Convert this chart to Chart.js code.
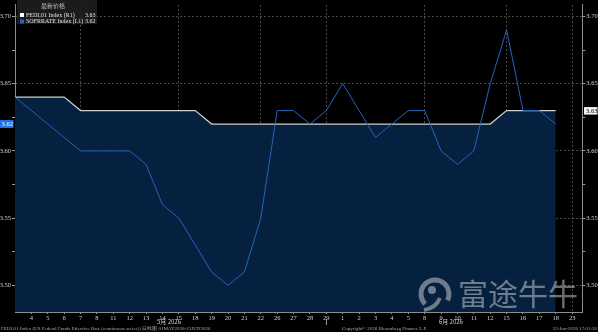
<!DOCTYPE html>
<html><head><meta charset="utf-8">
<script src="https://cdn.jsdelivr.net/npm/chart.js@4/dist/chart.umd.min.js"></script>
<style>html,body{margin:0;padding:0;background:#000;overflow:hidden}#wrap{position:relative;width:598px;height:332px}</style>
</head><body><div id="wrap"><canvas id="c" width="598" height="332"></canvas></div>
<script>
// ---- data ----
const dates = ["2026-05-01","2026-05-04","2026-05-05","2026-05-06","2026-05-07","2026-05-08",
  "2026-05-11","2026-05-12","2026-05-13","2026-05-14","2026-05-15",
  "2026-05-18","2026-05-19","2026-05-20","2026-05-21","2026-05-22",
  "2026-05-26","2026-05-27","2026-05-28","2026-05-29",
  "2026-06-01","2026-06-02","2026-06-03","2026-06-04","2026-06-05",
  "2026-06-08","2026-06-09","2026-06-10","2026-06-11","2026-06-12",
  "2026-06-15","2026-06-16","2026-06-17","2026-06-18"];
const tickLabels = ["","4","5","6","7","8","11","12","13","14","15","18","19","20","21","22","26","27","28","29",
  "1","2","3","4","5","8","9","10","11","12","15","16","17","18","23"];
const fedl01 = [3.64,3.64,3.64,3.64,3.63,3.63,3.63,3.63,3.63,3.63,3.63,3.63,
  3.62,3.62,3.62,3.62,3.62,3.62,3.62,3.62,3.62,3.62,3.62,3.62,3.62,3.62,3.62,3.62,3.62,3.62,
  3.63,3.63,3.63,3.63];
const sofrrate = [3.64,3.63,3.62,3.61,3.60,3.60,3.60,3.60,3.59,3.56,3.55,3.53,3.51,3.50,3.51,3.55,
  3.63,3.63,3.62,3.63,3.65,3.63,3.61,3.62,3.63,3.63,3.60,3.59,3.60,3.65,3.69,3.63,3.63,3.62];
const yTicks = [3.50,3.525,3.55,3.575,3.60,3.625,3.65,3.675,3.70];
const weekLines = [4,10,15,19,25,30,34];
const monthLabels = [{at:9.4,text:"5月 2026"},{at:26.6,text:"6月 2026"}];
const legendTitle = "最新价格";
const seriesNames = ["FEDL01 Index (R1)","SOFRRATE Index (L1)"];
const footerLeft = "FEDL01 Index (US Federal Funds Effective Rate (continuous series)) 日线图 01MAY2026-23JUN2026";
const footerMid = "Copyright\u00A9 2026 Bloomberg Finance L.P.";
const footerRight = "23-Jun-2026 17:01:30";
const watermark = "富途牛牛";

// ---- styles ----
const FONT = "'Liberation Serif', serif";
const WHITE = '#cfcfcf', BLUE = '#2862bd', FILL = '#06203f';
const isMajor = v => Math.abs(v*20 - Math.round(v*20)) < 1e-6;
const gridGrey = 'rgba(135,135,135,0.55)';

const overlay = {
  id:'overlay',
  afterDatasetsDraw(chart){
    const ctx = chart.ctx, xs = chart.scales.x, yl = chart.scales.y, yr = chart.scales.y1;
    const ca = chart.chartArea;
    ctx.save();
    // watermark
    ctx.globalAlpha = 0.5;
    ctx.fillStyle = '#d8d8d8';
    ctx.font = "30px 'Noto Sans CJK SC'";
    ctx.textBaseline = 'middle'; ctx.textAlign = 'left';
    ctx.fillText(watermark, 458, 294);
    // logo
    ctx.strokeStyle = '#d8d8d8'; ctx.lineWidth = 5;
    ctx.beginPath(); ctx.arc(435, 294, 14, Math.PI*0.75, Math.PI*2.15); ctx.stroke();
    ctx.beginPath(); ctx.arc(432, 290, 4, 0, Math.PI*2); ctx.fill();
    ctx.beginPath(); ctx.moveTo(440,298); ctx.quadraticCurveTo(436,308,424,310); ctx.lineWidth=4; ctx.stroke();
    ctx.restore();
  },
  afterDraw(chart){
    const ctx = chart.ctx, xs = chart.scales.x, yl = chart.scales.y, yr = chart.scales.y1;
    const ca = chart.chartArea;
    ctx.save();
    // legend box
    ctx.fillStyle = 'rgba(28,28,28,0.95)';
    ctx.fillRect(17, 0, 80, 24);
    ctx.fillStyle = '#bdbdbd';
    ctx.font = "6px 'Noto Sans CJK SC'";
    ctx.textAlign = 'center'; ctx.textBaseline = 'middle';
    ctx.fillText(legendTitle, 53, 6);
    ctx.font = "6px " + FONT; ctx.textAlign = 'left';
    ctx.fillStyle = '#ffffff'; ctx.fillRect(20, 13, 4, 4);
    ctx.fillStyle = BLUE; ctx.fillRect(20, 19.5, 4, 4);
    ctx.fillStyle = '#e0e0e0';
    ctx.fillText(seriesNames[0], 26, 15.3);
    ctx.fillText(seriesNames[1], 26, 21.6);
    ctx.fillText(fedl01[fedl01.length-1].toFixed(2), 85, 15.3);
    ctx.fillText(sofrrate[sofrrate.length-1].toFixed(2), 85, 21.6);
    // last value tags
    const yb = yl.getPixelForValue(sofrrate[sofrrate.length-1]);
    ctx.fillStyle = '#1f74e0'; ctx.fillRect(0, yb-4, 13.5, 8);
    ctx.fillStyle = '#ffffff'; ctx.font = "6.5px " + FONT; ctx.textAlign='left';
    ctx.fillText(sofrrate[sofrrate.length-1].toFixed(2), 1.5, yb+0.3);
    const yw = yr.getPixelForValue(fedl01[fedl01.length-1]);
    ctx.fillStyle = '#f2f2f2'; ctx.fillRect(584, yw-3.5, 13.5, 7.5);
    ctx.fillStyle = '#000'; ctx.fillText(fedl01[fedl01.length-1].toFixed(2), 586, yw+0.3);
    // month separator and month labels
    ctx.strokeStyle = '#9a9a9a'; ctx.lineWidth = 1;
    const xs19 = Math.round(xs.getPixelForValue(19)) + 0.5;
    ctx.beginPath(); ctx.moveTo(xs19, 319); ctx.lineTo(xs19, 325); ctx.stroke();
    ctx.fillStyle = '#d0d0d0'; ctx.font = "6px 'Noto Sans CJK SC'"; ctx.textAlign='center';
    monthLabels.forEach(m => ctx.fillText(m.text, xs.getPixelForValue(m.at), 322));
    // footer
    ctx.fillStyle = '#a8a8a8'; ctx.font = "5px " + FONT; ctx.textBaseline='middle';
    ctx.textAlign='left'; ctx.fillText(footerLeft, 1, 329, 232);
    ctx.textAlign='left'; ctx.fillText(footerMid, 342, 329, 90);
    ctx.textAlign='right'; ctx.fillText(footerRight, 597, 329, 50);
    ctx.restore();
  }
};

const tickFont = {family: FONT, size: 6.5};
new Chart(document.getElementById('c'), {
  type: 'line',
  data: {
    datasets: [
      {label: seriesNames[0], data: fedl01.map((v,i)=>({x:i,y:v})), borderColor: WHITE, borderWidth: 1.2,
       backgroundColor: FILL, fill: 'start', pointRadius: 0, tension: 0, yAxisID: 'y1', order: 2},
      {label: seriesNames[1], data: sofrrate.map((v,i)=>({x:i,y:v})), borderColor: BLUE, borderWidth: 1,
       fill: false, pointRadius: 0, tension: 0, yAxisID: 'y', order: 1}
    ]
  },
  options: {
    responsive: false, animation: false, devicePixelRatio: 1,
    layout: {padding: 0},
    plugins: {legend: {display: false}, tooltip: {enabled: false}},
    scales: {
      x: {type: 'linear', min: 0, max: 34.62,
        afterBuildTicks: s => { s.ticks = tickLabels.map((l,i)=>({value:i})).filter(t=>t.value>=1); },
        afterFit: s => { s.height = 20; },
        ticks: {callback: v => tickLabels[v], color: '#d0d0d0', font: tickFont, maxRotation: 0, autoSkip: false, padding: 0},
        grid: {color: c => weekLines.includes(c.tick && c.tick.value) ? gridGrey : 'transparent', tickColor: '#9a9a9a', tickLength: 2, lineWidth: 1},
        border: {color: '#8c8c8c', dash: [2,2]}
      },
      y: {position: 'left', min: 3.4802, max: 3.7086,
        afterBuildTicks: s => { s.ticks = yTicks.map(v=>({value:v})); },
        afterFit: s => { s.width = 15; },
        ticks: {callback: v => isMajor(v) ? v.toFixed(2) : '', color: '#d0d0d0', font: tickFont, padding: 1},
        grid: {color: c => (c.tick && isMajor(c.tick.value)) ? gridGrey : 'transparent', tickColor: '#9a9a9a', tickLength: 3},
        border: {color: '#8c8c8c', dash: [2,2]}
      },
      y1: {position: 'right', min: 3.4802, max: 3.7086,
        afterBuildTicks: s => { s.ticks = yTicks.map(v=>({value:v})); },
        afterFit: s => { s.width = 15.7; },
        ticks: {callback: v => isMajor(v) ? v.toFixed(2) : '', color: '#d0d0d0', font: tickFont, padding: 1},
        grid: {drawOnChartArea: false, tickColor: '#9a9a9a', tickLength: 3},
        border: {color: '#8c8c8c'}
      }
    }
  },
  plugins: [overlay]
});
</script></body></html>
